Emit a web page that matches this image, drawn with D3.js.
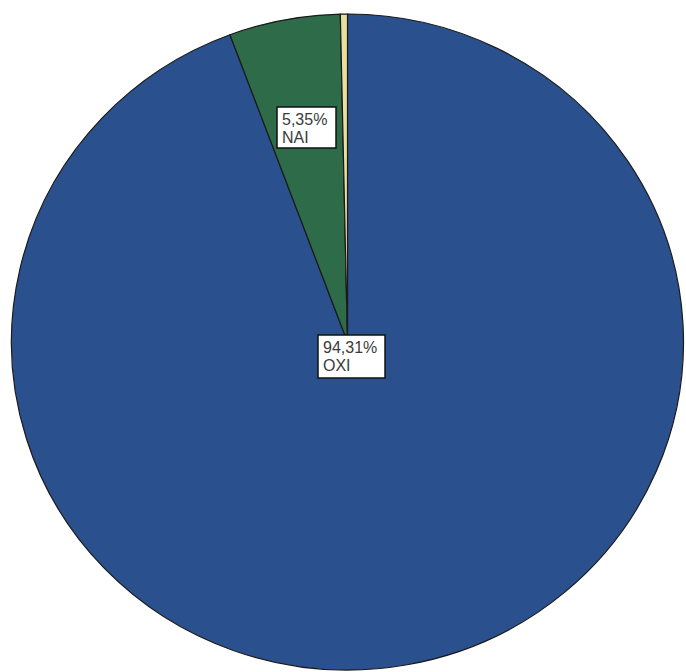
<!DOCTYPE html>
<html>
<head>
<meta charset="utf-8">
<script src="https://cdn.jsdelivr.net/npm/d3@7"></script>
<style>
  html, body { margin: 0; padding: 0; background: #fff; }
  svg { display: block; }
</style>
</head>
<body>
<svg id="chart" width="686" height="672"></svg>
<script>
const categories = ["OXI", "NAI", "Other"];
const values = [94.31, 5.35, 0.34];
const labels = ["94,31%", "5,35%", ""];
const colors = ["#2b508e", "#2e6b48", "#e8df9c"];

const svg = d3.select("#chart");
const cx = 347.5, cy = 342, rx = 336, ry = 328;

const pie = d3.pie().sort(null).value(d => d.v);
const arcs = pie(categories.map((c, i) => ({ c, v: values[i], i })));
const arc = d3.arc().innerRadius(0).outerRadius(rx);

const g = svg.append("g")
  .attr("transform", `translate(${cx},${cy}) scale(1,${ry / rx})`);

g.selectAll("path").data(arcs).enter().append("path")
  .attr("d", arc)
  .attr("fill", d => colors[d.data.i])
  .attr("stroke", "#1a1a1a")
  .attr("stroke-width", 1.2)
  .attr("vector-effect", "non-scaling-stroke");

// label boxes
const boxes = [
  { i: 0, x: 318, y: 335, w: 67, h: 43 },
  { i: 1, x: 277, y: 107, w: 59, h: 41 }
];
boxes.forEach(b => {
  const lg = svg.append("g");
  lg.append("rect")
    .attr("x", b.x).attr("y", b.y).attr("width", b.w).attr("height", b.h)
    .attr("fill", "#fff").attr("stroke", "#111").attr("stroke-width", 1.5);
  lg.append("text")
    .attr("x", b.x + 5).attr("y", b.y + 18)
    .attr("font-family", "Liberation Sans, Arial, sans-serif")
    .attr("font-size", 16).attr("fill", "#3a3a3a")
    .text(labels[b.i]);
  lg.append("text")
    .attr("x", b.x + 5).attr("y", b.y + 36)
    .attr("font-family", "Liberation Sans, Arial, sans-serif")
    .attr("font-size", 16).attr("fill", "#3a3a3a")
    .text(categories[b.i]);
});
</script>
</body>
</html>
